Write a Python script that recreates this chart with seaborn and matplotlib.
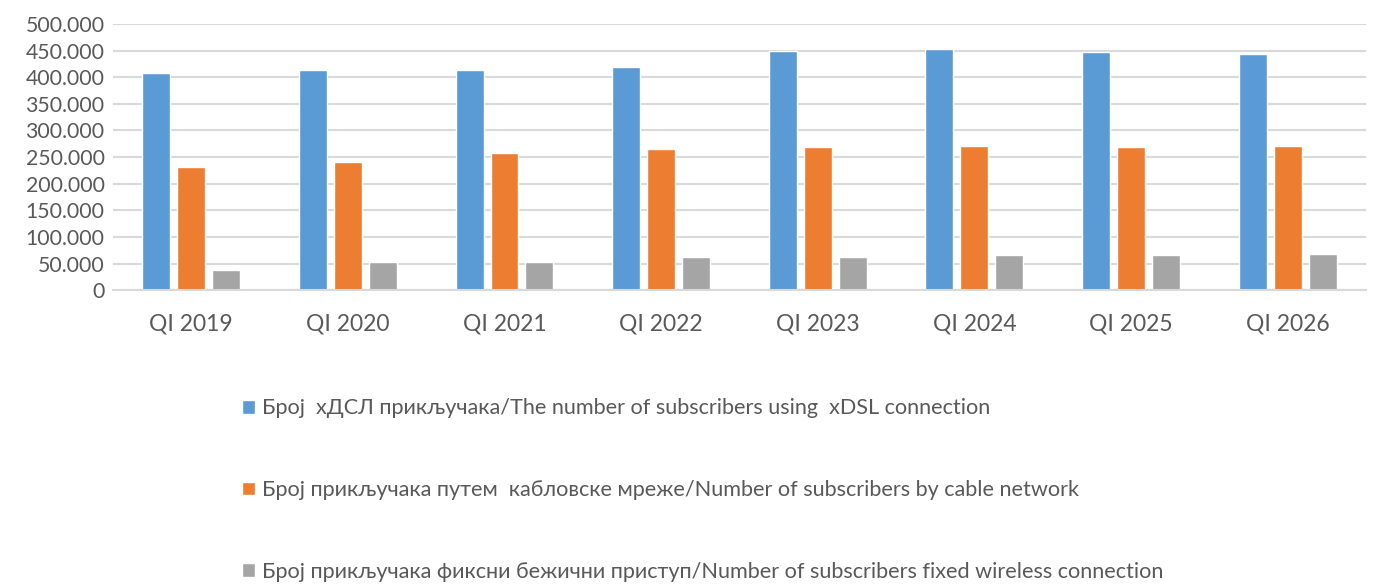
import matplotlib
matplotlib.use("Agg")
import matplotlib.pyplot as plt
import matplotlib.ticker as mticker
import seaborn as sns
import pandas as pd

categories = ["QI 2019", "QI 2020", "QI 2021", "QI 2022", "QI 2023", "QI 2024", "QI 2025", "QI 2026"]
xdsl = [407000, 413500, 413000, 419000, 449000, 453000, 448000, 443500]
cable = [231000, 241000, 257000, 265000, 269000, 271000, 269000, 270500]
wireless = [38000, 52500, 53000, 62000, 62000, 66000, 66000, 67500]
series_names = [
    "Број  хДСЛ прикључака/The number of subscribers using  xDSL connection",
    "Број прикључака путем  кабловске мреже/Number of subscribers by cable network",
    "Број прикључака фиксни бежични приступ/Number of subscribers fixed wireless connection",
]
colors = ["#5B9BD5", "#ED7D31", "#A5A5A5"]

rows = []
for name, vals in zip(series_names, [xdsl, cable, wireless]):
    for c, v in zip(categories, vals):
        rows.append({"cat": c, "series": name, "value": v})
df = pd.DataFrame(rows)

sns.set_theme(style="white")
plt.rcParams["font.family"] = ["Lato", "DejaVu Sans"]

fig = plt.figure(figsize=(13.77, 5.84), dpi=100)
ax = fig.add_axes([0.082, 0.503, 0.910, 0.456])

sns.barplot(data=df, x="cat", y="value", hue="series", palette=colors,
            order=categories, hue_order=series_names, width=0.67, gap=0.2,
            saturation=1, ax=ax, legend=True, errorbar=None)

ax.set_ylim(0, 500000)
ax.set_xlim(-0.5, len(categories) - 0.5)
ax.yaxis.set_major_locator(mticker.MultipleLocator(50000))
ax.yaxis.set_major_formatter(mticker.FuncFormatter(lambda v, p: f"{int(v):,}".replace(",", ".")))
ax.grid(axis="y", color="#D9D9D9", linewidth=1.5)
ax.set_axisbelow(True)
for s in ["top", "right", "left"]:
    ax.spines[s].set_visible(False)
ax.spines["bottom"].set_color("#D9D9D9")
ax.spines["bottom"].set_linewidth(1.5)
ax.tick_params(axis="both", length=0, colors="#595959")
ax.tick_params(axis="x", pad=17, labelsize=16.5)
ax.tick_params(axis="y", pad=6, labelsize=15.3)
ax.set_xlabel("")
ax.set_ylabel("")

handles, labels = ax.get_legend_handles_labels()
ax.get_legend().remove()
fig.legend(handles, labels, loc="upper left", bbox_to_anchor=(0.176, 0.318),
           frameon=False, fontsize=15.6, labelcolor="#595959", labelspacing=2.85,
           handlelength=0.6, handleheight=0.6, handletextpad=0.3, borderpad=0, borderaxespad=0)

fig.savefig("out.png", dpi=100)
